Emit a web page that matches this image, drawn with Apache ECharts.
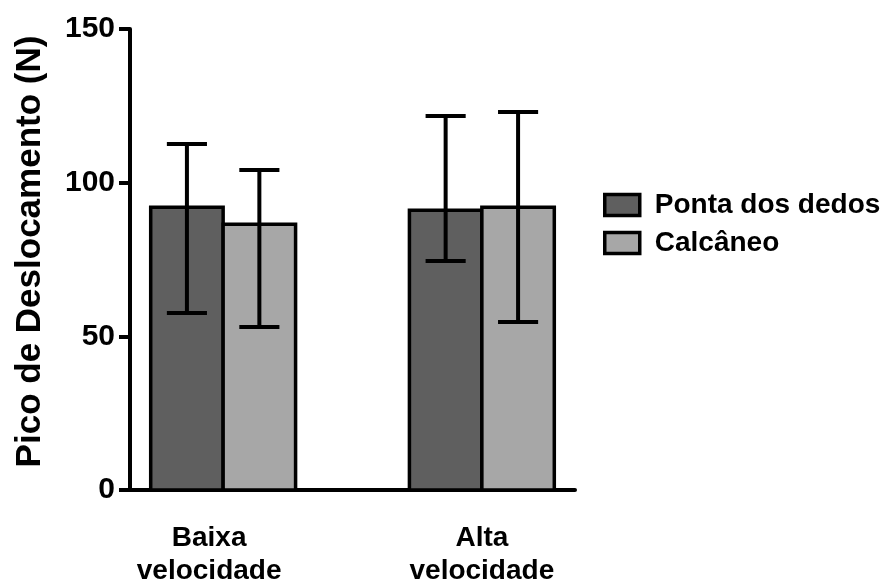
<!DOCTYPE html>
<html>
<head>
<meta charset="utf-8">
<script src="https://cdn.jsdelivr.net/npm/echarts@6/dist/echarts.min.js"></script>
<style>
html,body{margin:0;padding:0;background:#fff;}
#chart{width:887px;height:585px;}
</style>
</head>
<body>
<div id="chart"></div>
<script>
// ---- data ----
const categories = ['Baixa velocidade', 'Alta velocidade'];
const seriesNames = ['Ponta dos dedos', 'Calcâneo'];
const pontaMean = [92, 91];
const pontaLow  = [57.6, 74.5];
const pontaHigh = [112.6, 121.7];
const calcMean  = [86.5, 92];
const calcLow   = [53, 54.7];
const calcHigh  = [104.1, 123];
const yTicks = [0, 50, 100, 150];

// ---- styles ----
const FONT = 'Liberation Sans, Arial, sans-serif';
const colors = ['#5f5f5f', '#a7a7a7'];
const BAR_W = 0.28;     // bar width in category units
const CAP_W = 0.155;    // cap width in category units

function makeRender(k) {
  return function (params, api) {
    const i = api.value(0), v = api.value(1), lo = api.value(2), hi = api.value(3);
    const unit = api.size([1, 0])[0];
    const w = BAR_W * unit;
    const base = api.coord([i, 0]);
    const cx = base[0] + (k === 0 ? -w / 2 : w / 2);
    const top = api.coord([i, v])[1];
    const yLo = api.coord([i, lo])[1];
    const yHi = api.coord([i, hi])[1];
    const cap = CAP_W * unit / 2;
    const lineStyle = { stroke: '#000', lineWidth: 4 };
    return {
      type: 'group',
      children: [
        { type: 'rect', shape: { x: cx - w / 2, y: top, width: w, height: base[1] - top },
          style: { fill: colors[k], stroke: '#000', lineWidth: 3.5 } },
        { type: 'line', shape: { x1: cx, y1: yLo, x2: cx, y2: yHi }, style: lineStyle },
        { type: 'line', shape: { x1: cx - cap, y1: yHi, x2: cx + cap, y2: yHi }, style: lineStyle },
        { type: 'line', shape: { x1: cx - cap, y1: yLo, x2: cx + cap, y2: yLo }, style: lineStyle }
      ]
    };
  };
}

const means = [pontaMean, calcMean], lows = [pontaLow, calcLow], highs = [pontaHigh, calcHigh];
const series = seriesNames.map((name, k) => ({
  name: name,
  type: 'custom',
  renderItem: makeRender(k),
  itemStyle: { color: colors[k] },
  encode: { x: 0, y: 1 },
  data: categories.map((c, i) => [i, means[k][i], lows[k][i], highs[k][i]]),
  z: 2
}));

const chart = echarts.init(document.getElementById('chart'), null, { renderer: 'canvas' });
chart.setOption({
  animation: false,
  backgroundColor: '#fff',
  grid: { left: 130, right: 312, top: 29, bottom: 95, containLabel: false, outerBoundsMode: 'none' },
  xAxis: {
    type: 'value',
    min: -0.36,
    max: 1.36,
    axisLine: { show: true, onZero: false, lineStyle: { color: '#000', width: 4 } },
    axisTick: { show: false },
    splitLine: { show: false },
    axisLabel: {
      customValues: [0, 1],
      margin: 32,
      color: '#000',
      fontFamily: FONT,
      fontWeight: 'bold',
      fontSize: 28,
      lineHeight: 33,
      formatter: function (v) {
        const i = Math.round(v);
        const parts = categories[i].split(' ');
        const tag = i === 0 ? 'f' : 'n';
        return parts.map(p => '{' + tag + '|' + p + '}').join('\n');
      },
      rich: {
        f: { fontFamily: FONT, fontWeight: 'bold', fontSize: 28, lineHeight: 33, color: '#000', padding: [0, 28, 0, 0] },
        n: { fontFamily: FONT, fontWeight: 'bold', fontSize: 28, lineHeight: 33, color: '#000' }
      }
    }
  },
  yAxis: {
    type: 'value',
    min: yTicks[0],
    max: yTicks[yTicks.length - 1],
    interval: yTicks[1] - yTicks[0],
    name: 'Pico de Deslocamento (N)',
    nameLocation: 'middle',
    nameGap: 82,
    nameTextStyle: { color: '#000', fontFamily: FONT, fontWeight: 'bold', fontSize: 35, padding: [0, 0, 0, 16] },
    axisLine: { show: true, onZero: false, lineStyle: { color: '#000', width: 4 } },
    axisTick: { show: true, length: 11, lineStyle: { color: '#000', width: 4 } },
    splitLine: { show: false },
    axisLabel: { margin: 15, color: '#000', fontFamily: FONT, fontWeight: 'bold', fontSize: 30 }
  },
  legend: {
    orient: 'vertical',
    left: 598,
    top: 186,
    icon: 'rect',
    itemWidth: 35,
    itemHeight: 21,
    itemGap: 10,
    itemStyle: { borderColor: '#000', borderWidth: 3.5 },
    textStyle: { color: '#000', fontFamily: FONT, fontWeight: 'bold', fontSize: 28, padding: [0, 0, 0, 10] },
    data: seriesNames
  },
  series: series
});
</script>
</body>
</html>
